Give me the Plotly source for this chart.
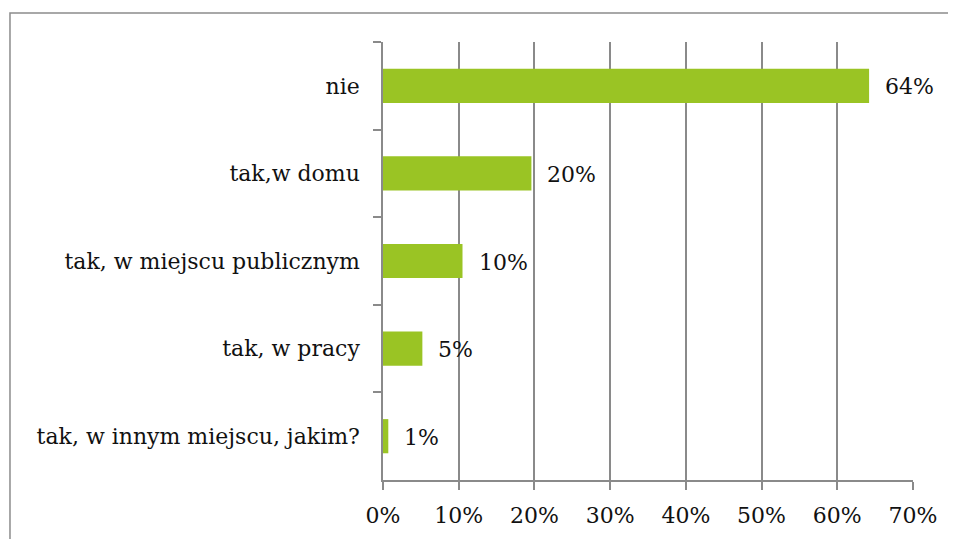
import plotly.graph_objects as go

categories = ["nie", "tak,w domu", "tak, w miejscu publicznym", "tak, w pracy",
              "tak, w innym miejscu, jakim?"]
values = [64.2, 19.6, 10.5, 5.2, 0.7]
labels = ["64%", "20%", "10%", "5%", "1%"]

GREEN = "#9AC424"
GRID = "#8a8a8a"
FONT = dict(family="DejaVu Serif", size=22, color="#111111")

fig = go.Figure(go.Bar(
    x=values, y=categories, orientation="h",
    marker=dict(color=GREEN, line=dict(width=0)),
    width=0.39,
    hoverinfo="skip",
))

# value labels to the right of each bar
for v, c, t in zip(values, categories, labels):
    fig.add_annotation(x=v, y=c, text=t, showarrow=False, xanchor="left",
                       xshift=14, yshift=-1, font=FONT)

# outer chart border (only left and top visible in the frame)
fig.add_shape(type="rect", xref="paper", yref="paper",
              x0=-0.7038, x1=1.6, y0=-0.4, y1=1.0662,
              line=dict(color="#8c8c8c", width=1.5), layer="below")

fig.update_layout(
    width=956, height=539,
    margin=dict(l=375, r=51, t=34, b=67),
    plot_bgcolor="white", paper_bgcolor="white",
    font=FONT,
    showlegend=False,
    xaxis=dict(
        range=[0, 70], dtick=10, ticksuffix="%",
        showgrid=True, gridcolor=GRID, gridwidth=1.5,
        showline=True, linecolor=GRID, linewidth=1.5,
        ticks="outside", ticklen=8, tickcolor=GRID, tickwidth=1.5,
        ticklabelstandoff=7,
        zeroline=False, fixedrange=True,
    ),
    yaxis=dict(
        autorange="reversed",
        showline=True, linecolor=GRID, linewidth=1.5,
        ticks="outside", ticklen=8, tickcolor=GRID, tickwidth=1.5,
        tickson="boundaries", ticklabelstandoff=17,
        showgrid=False, fixedrange=True,
    ),
)

fig.write_html("out.html")
